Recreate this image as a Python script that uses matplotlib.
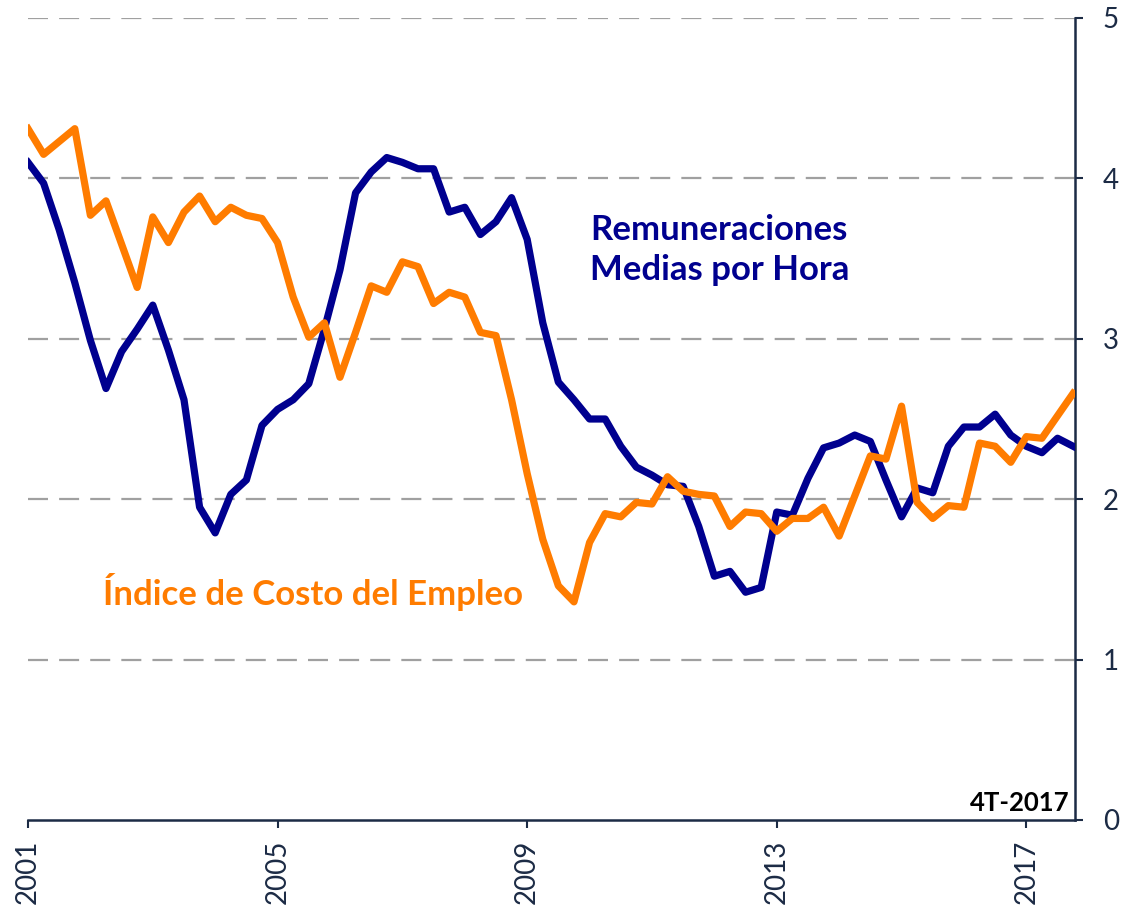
import numpy as np
import matplotlib
matplotlib.use("Agg")
import matplotlib.pyplot as plt

# quarterly series, 2001Q1 .. 2017Q4 (annual % change)
start_year = 2001
eci = [4.31, 4.15, 4.23, 4.31,
       3.77, 3.86, 3.59, 3.32,
       3.76, 3.60, 3.79, 3.89,
       3.73, 3.82, 3.77, 3.75,
       3.60, 3.26, 3.01, 3.10,
       2.76, 3.04, 3.33, 3.29,
       3.48, 3.45, 3.22, 3.29,
       3.26, 3.04, 3.02, 2.62,
       2.16, 1.75, 1.46, 1.36,
       1.73, 1.91, 1.89, 1.98,
       1.97, 2.14, 2.05, 2.03,
       2.02, 1.83, 1.92, 1.91,
       1.80, 1.88, 1.88, 1.95,
       1.77, 2.02, 2.27, 2.25,
       2.58, 1.98, 1.88, 1.96,
       1.95, 2.35, 2.33, 2.23,
       2.39, 2.38, 2.52, 2.66]
ahe = [4.10, 3.97, 3.68, 3.35,
       2.99, 2.69, 2.92, 3.06,
       3.21, 2.93, 2.62, 1.95,
       1.79, 2.03, 2.12, 2.46,
       2.56, 2.62, 2.72, 3.06,
       3.43, 3.91, 4.04, 4.13,
       4.10, 4.06, 4.06, 3.79,
       3.82, 3.65, 3.73, 3.88,
       3.62, 3.10, 2.73, 2.62,
       2.50, 2.50, 2.33, 2.20,
       2.15, 2.09, 2.08, 1.83,
       1.52, 1.55, 1.42, 1.45,
       1.92, 1.90, 2.13, 2.32,
       2.35, 2.40, 2.36, 2.12,
       1.89, 2.07, 2.04, 2.33,
       2.45, 2.45, 2.53, 2.40,
       2.33, 2.29, 2.38, 2.33]
year_ticks = [2001, 2005, 2009, 2013, 2017]
y_ticks = [0, 1, 2, 3, 4, 5]

navy = "#00008f"
orange = "#ff7c00"
axcol = "#1c2b45"

x = start_year + np.arange(len(eci)) / 4.0

plt.rcParams['font.family'] = ['Lato', 'DejaVu Sans']

fig = plt.figure(figsize=(11.4, 9.07), dpi=100)
ax = fig.add_axes([28/1140, 1 - 820/907, (1075 - 28)/1140, (820 - 18)/907])

for v in y_ticks[1:]:
    ax.axhline(v, color="#a0a0a0", lw=1.6, dashes=(9, 5), zorder=1)

ax.plot(x, ahe, color=navy, lw=5.2, solid_joinstyle="round", zorder=3)
ax.plot(x, eci, color=orange, lw=5.2, solid_joinstyle="round", zorder=3)

ax.set_xlim(2001, 2017.78)
ax.set_ylim(0, 5)
ax.set_xticks(year_ticks)
ax.set_xticklabels([str(y) for y in year_ticks], rotation=90)
ax.set_yticks(y_ticks)

ax.yaxis.tick_right()
for s in ["left", "top"]:
    ax.spines[s].set_visible(False)
for s in ["right", "bottom"]:
    ax.spines[s].set_color(axcol)
    ax.spines[s].set_linewidth(1.8)
ax.tick_params(axis="both", colors=axcol, labelsize=20, length=6, width=1.5,
               direction="out")
ax.tick_params(axis="y", pad=14)
ax.tick_params(axis="x", pad=8)

ax.text(2012.08, 3.555, "Remuneraciones\nMedias por Hora", color=navy,
        fontsize=25, fontweight="bold", ha="center", va="center",
        linespacing=1.32)
ax.text(2005.57, 1.42, "Índice de Costo del Empleo", color=orange,
        fontsize=25, fontweight="bold", ha="center", va="center")
ax.text(2017.7, 0.03, "4T-2017", color="black", fontsize=18.5,
        fontweight="bold", ha="right", va="bottom")

fig.savefig("out.png", dpi=100)
